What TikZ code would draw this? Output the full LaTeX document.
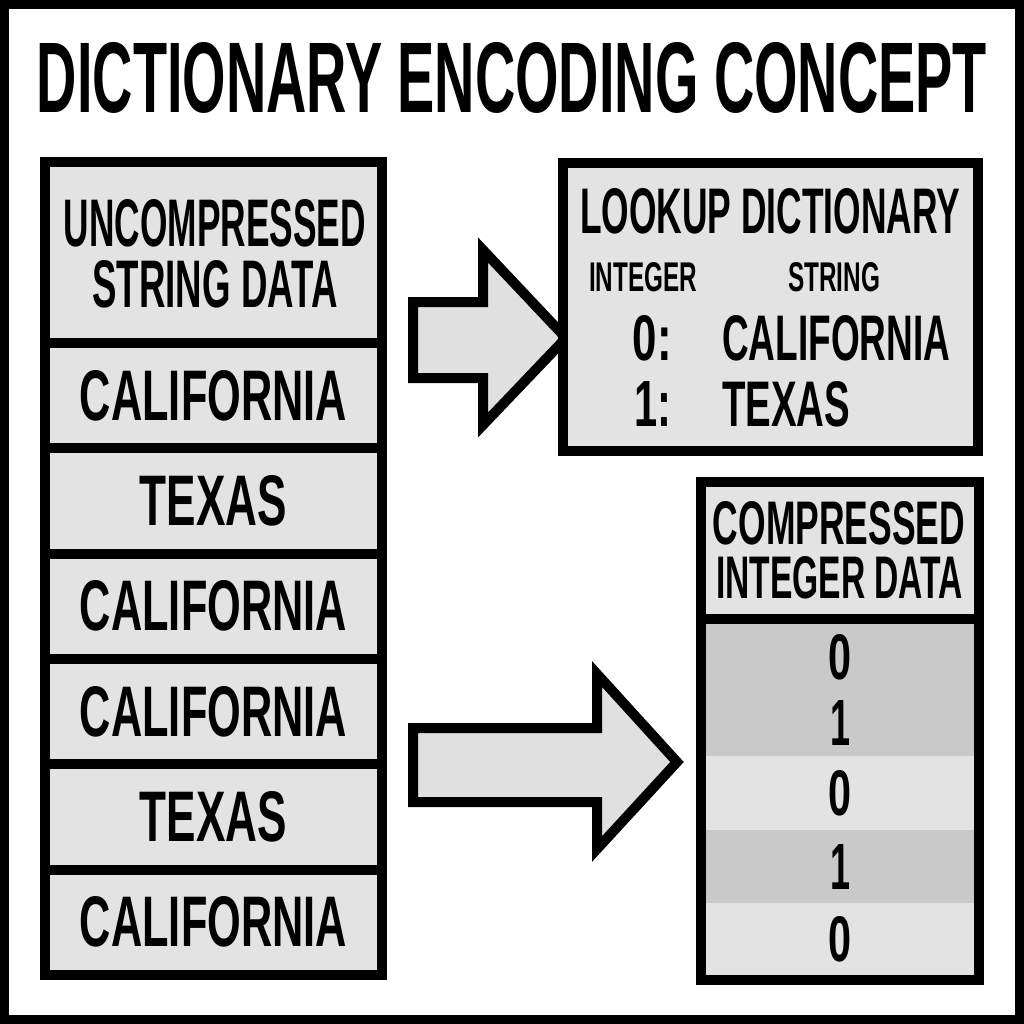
\documentclass[tikz,border=0pt]{standalone}
\usepackage{fontspec}
\usepackage{graphicx}
\setmainfont{Liberation Sans}
\definecolor{boxgray}{HTML}{E3E3E3}
\definecolor{bandgray}{HTML}{C9C9C9}
\definecolor{arrowgray}{HTML}{E0E0E0}
\newcommand{\fitlabel}[3]{\resizebox{#1pt}{#2pt}{\bfseries #3}}

\begin{document}
\begin{tikzpicture}[x=1pt, y=-1pt,
    cell/.style ={draw, line width=10pt, fill=boxgray, inner sep=0pt, minimum width=337pt},
    word/.style ={inner sep=0pt},
    band/.style ={inner sep=0pt, minimum width=268pt},
    blockarrow/.style ={draw, line width=10pt, fill=arrowgray, line join=miter}]

   \useasboundingbox (0,0) rectangle (1024,1024);
   \draw[line width=9pt] (4.5,4.5) rectangle (1019.5,1019.5);

   \node[word] (title) at (512,78) {\fitlabel{950}{70}{DICTIONARY ENCODING CONCEPT}};

   % arrows
   \coordinate (dictTip) at (566,338);
   \coordinate (intTip)  at (677,762);
   \draw[blockarrow] (413,302) -- (483,302) -- (483,250) -- (dictTip)
        -- (483,425) -- (483,378) -- (413,378) -- cycle;
   \draw[blockarrow] (413,728) -- (597,728) -- (597,674) -- (intTip)
        -- (597,849) -- (597,802) -- (413,802) -- cycle;

   % uncompressed column
   \node[cell, minimum height=181pt] (strhead) at (213.5,252.5) {};
   \node[word] (strheadA) at (215,223) {\fitlabel{302}{47}{UNCOMPRESSED}};
   \node[word] (strheadB) at (215,284) {\fitlabel{245}{47}{STRING DATA}};
   \foreach \txt/\w [count=\i] in {CALIFORNIA/267,TEXAS/147,CALIFORNIA/267,CALIFORNIA/267,TEXAS/147,CALIFORNIA/267}
     \node[cell, minimum height=105.33pt] (str\i) at (213.5,{290.33+105.33*\i}) {\fitlabel{\w}{50}{\txt}};

   % dictionary
   \node[cell, minimum width=415pt, minimum height=288pt] (lookup) at (770.5,307) {};
   \node[word] (lookupTitle) at (770,211) {\fitlabel{380}{45}{LOOKUP DICTIONARY}};
   \node[word] (colInt) at (643,277) {\fitlabel{108}{29}{INTEGER}};
   \node[word] (colStr) at (834,277) {\fitlabel{92}{29}{STRING}};
   \node[word, anchor=east] (keyA) at (672,338) {\fitlabel{39}{45}{0:}};
   \node[word, anchor=east] (keyB) at (672,404) {\fitlabel{37}{45}{1:}};
   \node[word, anchor=west] (valA) at (722,338) {\fitlabel{228}{45}{CALIFORNIA}};
   \node[word, anchor=west] (valB) at (722,404) {\fitlabel{128}{45}{TEXAS}};

   % compressed column
   \foreach \d/\w/\c/\ya/\yb [count=\i] in {0/23/bandgray/624/690,1/20/bandgray/690/756,0/23/boxgray/756/830,1/20/bandgray/830/903,0/23/boxgray/903/975}
     \node[band, fill=\c, minimum height={\yb-\ya}] (int\i) at (840,{(\ya+\yb)/2}) {\fitlabel{\w}{45}{\d}};
   \node[cell, minimum width=278pt, minimum height=137pt] (inthead) at (840,550.5) {};
   \node[word] (intheadA) at (839,523) {\fitlabel{252}{43}{COMPRESSED}};
   \node[word] (intheadB) at (839.5,578) {\fitlabel{247}{42}{INTEGER DATA}};
   \node[draw, line width=10pt, inner sep=0pt, minimum width=278pt, minimum height=498pt] (intbox) at (840,731) {};

 \end{tikzpicture}
\end{document}
